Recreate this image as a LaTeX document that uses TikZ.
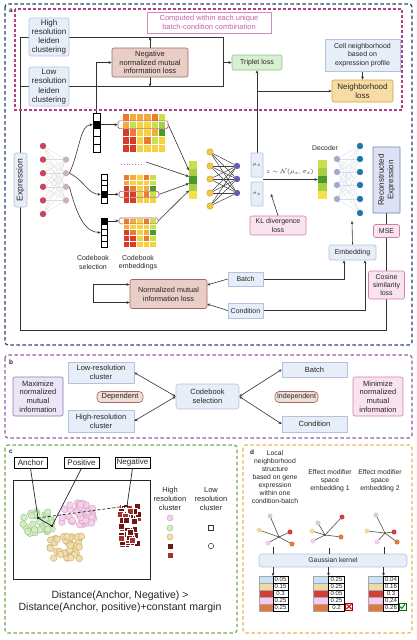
\documentclass[tikz,border=0pt]{standalone}
\usepackage{fontspec}
\setmainfont{Liberation Sans}
\usetikzlibrary{arrows.meta,calc}
\pgfdeclarelayer{back}
\pgfdeclarelayer{bg}
\pgfsetlayers{back,bg,main}
\definecolor{panA}{HTML}{2B4470}
\definecolor{panAin}{HTML}{B04088}
\definecolor{panB}{HTML}{9A5AA6}
\definecolor{panC}{HTML}{74A848}
\definecolor{panD}{HTML}{EBB64E}
\definecolor{bFill}{HTML}{E8EEF8}
\definecolor{bDraw}{HTML}{B3C3DF}
\definecolor{brFill}{HTML}{E8CEC7}
\definecolor{brDraw}{HTML}{A4675D}
\definecolor{pkFill}{HTML}{F9E3EE}
\definecolor{pkDraw}{HTML}{D27DAC}
\definecolor{gnFill}{HTML}{D8F0D2}
\definecolor{gnDraw}{HTML}{8CC47E}
\definecolor{orFill}{HTML}{F7DDA3}
\definecolor{orDraw}{HTML}{C9A14C}
\definecolor{puFill}{HTML}{ECE5F6}
\definecolor{puDraw}{HTML}{8877B8}
\definecolor{recFill}{HTML}{DCE2F4}
\definecolor{recDraw}{HTML}{7482B4}
\definecolor{compTxt}{HTML}{C662A8}
\definecolor{compDraw}{HTML}{D58BBE}
\definecolor{hR}{HTML}{D93B2B}
\definecolor{hO}{HTML}{EE7A31}
\definecolor{hYO}{HTML}{F4AA3C}
\definecolor{hY}{HTML}{F5D23E}
\definecolor{hG}{HTML}{CADF4E}
\definecolor{hLG}{HTML}{A6D042}
\definecolor{hDG}{HTML}{4B9A2A}
\definecolor{hYY}{HTML}{F2E24A}
\definecolor{nRed}{HTML}{C8455F}
\definecolor{nPink}{HTML}{CBB3BA}
\definecolor{nYel}{HTML}{F3C748}
\definecolor{nYelD}{HTML}{C99E22}
\definecolor{nPur}{HTML}{6A5BB0}
\definecolor{nGB}{HTML}{A3ABCD}
\definecolor{nTeal}{HTML}{1C79A9}
\definecolor{cGreen}{HTML}{D4EDC6}
\definecolor{cGreenD}{HTML}{9BCB88}
\definecolor{cPink}{HTML}{F5D2EA}
\definecolor{cPinkD}{HTML}{DDA6CC}
\definecolor{cTan}{HTML}{F1DDAE}
\definecolor{cTanD}{HTML}{D3B46F}
\definecolor{cDark}{HTML}{6E1518}
\definecolor{cRed}{HTML}{A8302C}
\definecolor{tBlue}{HTML}{CAE2F7}
\definecolor{tTan}{HTML}{EFD9A7}
\definecolor{tRed}{HTML}{D53D3A}
\definecolor{tPink}{HTML}{F3CBF0}
\definecolor{tOr}{HTML}{E07A3A}
\definecolor{gGrey}{HTML}{C9CFDF}
\newcommand{\myfs}[2]{\fontsize{#1}{#2}\selectfont}
\newcommand{\hmap}[5]{%
  \foreach \rw [count=\jj] in {#5}{%
    \foreach \cc [count=\ii] in \rw{%
      \filldraw[fill=\cc, draw=white, line width=0.25pt] ({#1+(\ii-1)*#3},{#2+(\jj-1)*#4}) rectangle ++(#3,#4);
    }%
  }%
}
\begin{document}
\begin{tikzpicture}[x=1pt,y=-1pt,
  font=\myfs{7}{8.4}, text=black!85,
  >={Stealth[length=3.2pt,width=2.8pt]},
  box/.style={rounded corners=2pt, align=center, inner sep=0pt, line width=0.6pt},
  bluebox/.style={box, draw=bDraw, fill=bFill},
  brbox/.style={box, draw=brDraw, fill=brFill},
  pkbox/.style={box, draw=pkDraw, fill=pkFill},
  sz/.style 2 args={minimum width=#1pt, minimum height=#2pt},
  conn/.style={draw=black!80, line width=0.6pt},
  arr/.style={conn, ->},
  dbl/.style={conn, <->},
  neuron/.style={circle, inner sep=0pt, minimum size=6.4pt},
  cellbox/.style={draw=black, line width=0.5pt, inner sep=0pt},
  paneldash/.style={line width=1.2pt, dash pattern=on 3.5pt off 2.5pt, rounded corners=3pt},
  plab/.style={font=\bfseries\myfs{6.5}{6.5}, inner sep=0pt},
  tval/.style={draw=black, fill=white, line width=0.5pt, minimum width=15pt, minimum height=7pt, inner sep=0pt, font=\myfs{6}{6}},
]
\useasboundingbox (0,0) rectangle (417,640);
\begin{pgfonlayer}{back}
\fill[white] (0,0) rectangle (417,640);
\end{pgfonlayer}

% ================= PANEL A =================
\draw[panA, paneldash] (5,4) rectangle (412,345);
\node[plab] (la) at (11,11) {a};
\draw[panAin, line width=1.2pt, dash pattern=on 3pt off 2pt] (15,9) rectangle (402,110);
\node[draw=compDraw, fill=white, text=compTxt, line width=0.8pt, sz={124}{21}, align=center, inner sep=0pt, font=\myfs{7.5}{9}] (comp) at (209,22.5) {Computed within each unique\\batch-condition combination};

\node[bluebox, sz={40}{38}, font=\myfs{8}{9.2}] (hi) at (49,37) {High\\resolution\\leiden\\clustering};
\node[bluebox, sz={40}{39}, font=\myfs{8}{9.2}] (lo) at (49,86.5) {Low\\resolution\\leiden\\clustering};
\node[brbox, sz={76}{29}, font=\myfs{7.5}{8.8}] (neg) at (150,62.5) {Negative\\normalized mutual\\information loss};
\node[box, draw=gnDraw, fill=gnFill, sz={50}{15}] (trip) at (257,62.5) {Triplet loss};
\node[bluebox, sz={75}{32}, rounded corners=0pt] (cell) at (362.5,55) {Cell neighborhood\\based on\\expression profile};
\node[box, draw=orDraw, fill=orFill, sz={61}{22}, font=\myfs{8}{9.4}] (nbl) at (362.5,91) {Neighborhood\\loss};

\node[bluebox, rotate=90, sz={54}{13}, font=\myfs{8.5}{9}] (expr) at (20.5,180) {Expression};

% encoder neurons
\foreach \y [count=\k] in {146,159.6,173.2,186.8,200.4,214}
  \node[neuron, fill=nRed] (ea\k) at (43,\y) {};
\foreach \y [count=\k] in {159.6,173.2,186.8,200.4}
  \node[neuron, fill=nPink] (eb\k) at (66,\y) {};

% codebook selection columns
\foreach \f [count=\k] in {white,black,white,white,white}
  \node[cellbox, fill=\f, sz={7}{7.8}] (c1\k) at (96.5,{113+3.9+(\k-1)*7.8}) {};
\foreach \f [count=\k] in {white,white,white,black,white}
  \node[cellbox, fill=\f, sz={6}{5.8}] (c2\k) at (104,{174+2.9+(\k-1)*5.8}) {};
\foreach \f [count=\k] in {black,white,white,white,white}
  \node[cellbox, fill=\f, sz={6}{5.8}] (c3\k) at (104,{218+2.9+(\k-1)*5.8}) {};

% heatmaps
\hmap{122}{113}{7.17}{7.8}{{hO,hYO,hYO,hYO,hO,hG},{hYO,hG,hY,hY,hG,hLG},{hR,hO,hY,hY,hYO,hDG},{hR,hR,hY,hO,hG,hY},{hR,hR,hY,hY,hY,hY}}
\hmap{123}{174}{6.6}{5.8}{{hO,hYO,hY,hO,hG},{hYO,hY,hY,hY,hG},{hR,hO,hY,hYO,hDG},{hR,hR,hY,hO,hG},{hR,hR,hY,hY,hY}}
\hmap{123}{218}{6.6}{5.8}{{hO,hYO,hY,hO,hG},{hYO,hY,hY,hY,hG},{hR,hO,hY,hYO,hDG},{hR,hR,hY,hO,hG},{hR,hR,hY,hY,hY}}
\node[draw=brDraw, rounded corners=1.5pt, sz={50}{7.8}, inner sep=0pt, line width=0.6pt] (h1r) at (143,124.7) {};
\node[draw=brDraw, rounded corners=1.5pt, sz={40}{5.8}, inner sep=0pt, line width=0.6pt] (h2r) at (139,194.3) {};
\node[draw=brDraw, rounded corners=1.5pt, sz={39}{5.8}, inner sep=0pt, line width=0.6pt] (h3r) at (138.5,220.9) {};
\coordinate (dotsL) at (121,164);
\coordinate (dotsR) at (142,164);
\draw[compTxt, line width=0.8pt, dash pattern=on 0.8pt off 2pt] (dotsL) -- (dotsR);

% combined column
\foreach \c [count=\k] in {hG,hLG,hDG,hLG,hYY}
  \node[inner sep=0pt, sz={8}{7.6}, fill=\c] (zc\k) at (193,{161+3.8+(\k-1)*7.6}) {};

% yellow / purple network
\foreach \y [count=\k] in {152,166,179,193,206}
  \node[neuron, fill=nYel, draw=nYelD, line width=0.4pt] (ya\k) at (210,\y) {};
\foreach \y [count=\k] in {166,179,193}
  \node[neuron, fill=nPur] (pb\k) at (237,\y) {};

\node[bluebox, rounded corners=0.5pt, sz={12}{24}, font=\myfs{5}{5}] (mu) at (257,165) {$\mu_z$};
\node[bluebox, rounded corners=0.5pt, sz={12}{24}, font=\myfs{5}{5}] (sig) at (257,194) {$\sigma_z$};
\node[font=\myfs{6}{6}, inner sep=0pt] (zlab) at (290,172) {$z\sim\mathcal{N}(\mu_{z},\sigma_{z})$};
\node[pkbox, sz={56}{19}] (kl) at (278,225.5) {KL divergence\\loss};

% decoder
\node[font=\myfs{6.8}{7}, inner sep=0pt] (decl) at (325,148) {Decoder};
\foreach \c [count=\k] in {hG,hLG,hDG,hLG,hYY}
  \node[inner sep=0pt, sz={9}{7.8}, fill=\c] (lt\k) at (322.5,{160+3.9+(\k-1)*7.8}) {};
\foreach \y [count=\k] in {159,172,185,199}
  \node[neuron, fill=nGB] (db\k) at (337,\y) {};
\foreach \y [count=\k] in {146,159,172,185,199,213}
  \node[neuron, fill=nTeal] (do\k) at (360,\y) {};
\node[box, draw=recDraw, fill=recFill, rotate=90, sz={66}{27}, rounded corners=0.5pt, font=\myfs{8}{9.4}] (rec) at (386.5,180) {Reconstructed\\Expression};
\node[pkbox, sz={26}{13}] (mse) at (386.5,231) {MSE};
\node[bluebox, sz={47}{15}] (emb) at (352.5,252.5) {Embedding};
\node[pkbox, sz={36}{28}] (cos) at (386.5,285) {Cosine\\similarity\\loss};
\node[bluebox, rounded corners=0pt, sz={35}{14}] (batch) at (245.5,279) {Batch};
\node[bluebox, rounded corners=0pt, sz={35}{15}] (cond) at (245.5,310.5) {Condition};
\node[brbox, sz={77}{29}, font=\myfs{7.3}{8.8}] (nmi) at (168.5,294) {Normalized mutual\\information loss};
\node[align=center, inner sep=0pt] (cbsl) at (93,262.5) {Codebook\\selection};
\node[align=center, inner sep=0pt] (cbel) at (138,262.5) {Codebook\\embeddings};

% connector coordinates
\coordinate (Ltop) at (20,37);
\coordinate (Lmid) at (20,86.5);
\coordinate (Lbot) at (20,330);
\coordinate (Rbot) at (386.5,330);
\coordinate (Rt) at (223,37);
\coordinate (Rb) at (223,86.5);
\coordinate (Rm) at (223,62.5);
\coordinate (nT) at (150,37);
\coordinate (nB) at (150,86.5);
\coordinate (c1up) at (96.5,62.5);
\coordinate (muB) at (257,91);
\coordinate (zin1) at (189,170.5);
\coordinate (zin2) at (189,176.5);
\coordinate (zin3) at (189,183.5);
\coordinate (zin4) at (189,190.5);
\coordinate (dotsA) at (146,162);
\coordinate (zst) at (263,179.5);
\coordinate (klT) at (271,194);
\coordinate (decIn) at (352,221);
\coordinate (bc1) at (344,279);
\coordinate (cc1) at (365,310.5);
\coordinate (nmiB) at (207,285);
\coordinate (nmiC) at (207,304);
\coordinate (s1) at (93,284.5);
\coordinate (s2) at (93,302.5);

\begin{pgfonlayer}{bg}
  \draw[conn] (hi.west) -- (Ltop) -- (Lbot) -- (Rbot) -- (cos.south);
  \draw[conn] (lo.west) -- (Lmid);
  \draw[conn] (hi.east) -- (Rt) -- (Rb) -- (lo.east);
  \draw[arr] (Rm) -- (trip.west);
  \draw[arr] (neg.north) -- (nT);
  \draw[arr] (neg.south) -- (nB);
  \draw[arr] (c11.north) -- (c1up) -- (neg.west);
  \draw[arr] (mu.north) -- (trip.south);
  \draw[arr] (muB) -- (nbl.west);
  \draw[arr] (cell.south) -- (nbl.north);
  \foreach \i in {1,...,6}{\foreach \j in {1,...,4}{\draw[black!14, line width=0.3pt] (ea\i) -- (eb\j);}}
  \foreach \i in {1,...,5}{\foreach \j in {1,...,3}{\draw[black!75, line width=0.5pt] (ya\i) -- (pb\j);}}
  \foreach \i in {1,...,4}{\foreach \j in {1,...,6}{\draw[gGrey!70, line width=0.3pt] (db\i) -- (do\j);}}
  \draw[arr] (eb2.east) .. controls (80,150) and (80,124.7) .. (c12.west);
  \draw[arr] (eb2.east) .. controls (84,180) and (88,194.3) .. (c24.west);
  \draw[arr] (eb3.east) .. controls (76,212) and (84,232.5) .. (c33.west);
  \draw[arr] (c12.east) -- (h1r.west);
  \draw[arr] (c24.east) -- (h2r.west);
  \draw[arr] (c31.east) -- (h3r.west);
  \draw[arr] (h1r.east) -- (zin1);
  \draw[arr] (dotsA) -- (zin2);
  \draw[arr] (h2r.east) -- (zin3);
  \draw[arr] (h3r.east) -- (zin4);
  \draw[arr] (zst) -- (lt3.west);
  \draw[arr] (kl.north) -- (klT);
  \draw[arr] (emb.north) -- (decIn);
  \draw[conn] (rec.west) -- (mse.north);
  \draw[conn] (mse.south) -- (cos.north);
  \draw[arr] (batch.east) -- (bc1) -- (bc1 |- emb.south);
  \draw[arr] (cond.east) -- (cc1) -- (cc1 |- emb.south);
  \draw[arr] (batch.west) -- (nmiB);
  \draw[arr] (cond.west) -- (nmiC);
  \draw[conn] (s1) -- (s2);
  \draw[arr] (s1) -- (nmi.west |- s1);
  \draw[arr] (s2) -- (nmi.west |- s2);
\end{pgfonlayer}

% ================= PANEL B =================
\draw[panB, paneldash] (5,355) rectangle (412,438);
\node[plab] (lb) at (11,362) {b};
\node[box, draw=puDraw, fill=puFill, sz={50}{39}, font=\myfs{7.5}{8.7}] (maxn) at (38,396.5) {Maximize\\normalized\\mutual\\information};
\node[bluebox, rounded corners=0pt, sz={66}{21}, font=\myfs{7.5}{8.7}] (lowr) at (101,372.5) {Low-resolution\\cluster};
\node[bluebox, rounded corners=0pt, sz={66}{22}, font=\myfs{7.5}{8.7}] (highr) at (101,421) {High-resolution\\cluster};
\node[box, draw=brDraw, fill=brFill!70, rounded corners=4pt, sz={46}{11}, font=\myfs{7.5}{8}] (dep) at (120,397) {Dependent};
\node[bluebox, rounded corners=3pt, sz={63}{25}, font=\myfs{7.5}{8.7}] (cbs) at (207.5,396.5) {Codebook\\selection};
\node[box, draw=brDraw, fill=brFill!70, rounded corners=4pt, sz={43}{11}, font=\myfs{7}{8}] (indep) at (296.5,397) {Independent};
\node[bluebox, rounded corners=0pt, sz={65}{15}, font=\myfs{7.5}{8.7}] (bbat) at (314.5,369.5) {Batch};
\node[bluebox, rounded corners=0pt, sz={65}{16}, font=\myfs{7.5}{8.7}] (bcon) at (314.5,424) {Condition};
\node[pkbox, sz={50}{39}, font=\myfs{7.5}{8.7}] (minn) at (378,396.5) {Minimize\\normalized\\mutual\\information};
\draw[dbl] (lowr.east) -- (cbs.west);
\draw[dbl] (highr.east) -- (cbs.west);
\draw[dbl] (cbs.east) -- (bbat.west);
\draw[dbl] (cbs.east) -- (bcon.west);

% ================= PANEL C =================
\draw[panC, paneldash] (5,445) rectangle (237,633);
\node[plab] (lc) at (11,452) {c};
\node[draw=black, fill=white, line width=0.6pt, sz={33}{11}, inner sep=0pt, font=\myfs{8}{8}] (anc) at (30.5,462.5) {Anchor};
\node[draw=black, fill=white, line width=0.6pt, sz={35}{11}, inner sep=0pt, font=\myfs{8}{8}] (pos) at (81.5,462.5) {Positive};
\node[draw=black, fill=white, line width=0.6pt, sz={35}{11}, inner sep=0pt, font=\myfs{8}{8}] (ngt) at (132.5,462.5) {Negative};
\draw[black!85, line width=0.7pt] (13,480) rectangle (150,579);
\pgfmathsetseed{11}
\foreach \i in {1,...,40}{
  \pgfmathsetmacro{\px}{76+18*rand}
  \pgfmathsetmacro{\py}{514+13*rand}
  \filldraw[fill=cPink, draw=cPinkD, line width=0.5pt] (\px,\py) circle (3.3pt);
}
\foreach \i in {1,...,40}{
  \pgfmathsetmacro{\px}{66+16*rand}
  \pgfmathsetmacro{\py}{548+12*rand}
  \filldraw[fill=cTan, draw=cTanD, line width=0.5pt] (\px,\py) circle (3.3pt);
}
\foreach \i in {1,...,36}{
  \pgfmathsetmacro{\px}{38+15*rand}
  \pgfmathsetmacro{\py}{523+11*rand}
  \filldraw[fill=cGreen, draw=cGreenD, line width=0.5pt] (\px,\py) circle (3.3pt);
}
\foreach \i in {1,...,55}{
  \pgfmathsetmacro{\px}{129+9*rand}
  \pgfmathsetmacro{\py}{525+20*rand}
  \pgfmathsetmacro{\pc}{mod(\i,3)==0 ? 1 : 0}
  \ifdim\pc pt>0.5pt
    \filldraw[fill=cRed, draw=white, line width=0.4pt] (\px-3,\py-3) rectangle ++(6,6);
  \else
    \filldraw[fill=cDark, draw=white, line width=0.4pt] (\px-3,\py-3) rectangle ++(6,6);
  \fi
}
\coordinate (pA) at (38,518);
\coordinate (pP) at (52,526);
\coordinate (pN) at (127,506);
\draw[black!85, line width=0.7pt] (anc.south) -- (pA);
\draw[black!85, line width=0.7pt] (pos.south) -- (pP);
\draw[black!85, line width=0.7pt] (ngt.south) -- (pN);
\draw[black!85, line width=0.7pt] (pA) -- (pP);
\draw[black!85, line width=0.7pt, dash pattern=on 3pt off 2pt] (pA) -- (pN);
\fill[black] (pA) circle (1.1pt);
\fill[black] (pP) circle (1.1pt);
\fill[black] (pN) circle (1.1pt);
\node[align=center, inner sep=0pt, font=\myfs{7.5}{8.8}] (lgH) at (170,499) {High\\resolution\\cluster};
\node[align=center, inner sep=0pt, font=\myfs{7.5}{8.8}] (lgL) at (211,499) {Low\\resolution\\cluster};
\filldraw[fill=cPink, draw=cPinkD, line width=0.5pt] (170,518) circle (3pt);
\filldraw[fill=cGreen, draw=cGreenD, line width=0.5pt] (170,528) circle (3pt);
\filldraw[fill=cTan, draw=cTanD, line width=0.5pt] (170,537) circle (3pt);
\filldraw[fill=cDark, draw=white, line width=0.4pt] (167.2,543.2) rectangle ++(5.6,5.6);
\filldraw[fill=cRed, draw=white, line width=0.4pt] (167.2,552.2) rectangle ++(5.6,5.6);
\draw[black!80, line width=0.5pt] (208.5,525.5) rectangle ++(5,5);
\draw[black!80, line width=0.5pt] (211,546) circle (2.7pt);
\node[align=center, inner sep=0pt, font=\myfs{10.5}{12.5}] (dist) at (120,602) {Distance(Anchor, Negative) >\\Distance(Anchor, positive)+constant margin};

% ================= PANEL D =================
\draw[panD, paneldash] (243,445) rectangle (412,633);
\node[plab] (ld) at (252,452) {d};
\node[align=center, inner sep=0pt, font=\myfs{6.8}{8}] (dt1) at (275,477) {Local\\neighborhood\\structure\\based on gene\\expression\\within one\\condition-batch};
\node[align=center, inner sep=0pt, font=\myfs{6.8}{8}] (dt2) at (330,481) {Effect modifier\\space\\embedding 1};
\node[align=center, inner sep=0pt, font=\myfs{6.8}{8}] (dt3) at (380,481) {Effect modifier\\space\\embedding 2};
% graphs
\foreach \cx/\cy/\ax/\ay/\bx/\by/\qx/\qy/\rx/\ry/\ox/\oy in {
  279/537/270/516/259/530/268/543/290/532/292/544,
  325/535/318/523/312/531/313/541/342/517/341/537,
  385/533/376/515/367/531/377/542/394/532/397/542}{
  \draw[black!70, line width=0.6pt] (\cx,\cy) -- (\ax,\ay);
  \draw[black!70, line width=0.6pt] (\cx,\cy) -- (\bx,\by);
  \draw[black!70, line width=0.6pt] (\cx,\cy) -- (\qx,\qy);
  \draw[black!70, line width=0.6pt] (\cx,\cy) -- (\rx,\ry);
  \draw[black!70, line width=0.6pt] (\cx,\cy) -- (\ox,\oy);
  \fill[gGrey] (\ax,\ay) circle (2.5pt);
  \fill[tTan] (\bx,\by) circle (2.5pt);
  \fill[tPink] (\qx,\qy) circle (2.5pt);
  \fill[tRed] (\rx,\ry) circle (2.5pt);
  \fill[tOr] (\ox,\oy) circle (2.5pt);
  \fill[black!70] (\cx,\cy) circle (1pt);
}
\node[bluebox, rounded corners=3pt, sz={148}{13}, font=\myfs{6.8}{7}] (gk) at (333,560.5) {Gaussian kernel};
\coordinate (g1) at (273,547);
\coordinate (g2) at (329,548);
\coordinate (g3) at (384,547);
\coordinate (t1) at (273,576);
\coordinate (t2) at (328.5,576);
\coordinate (t3) at (383.5,576);
\draw[conn] (g1) -- (g1 |- gk.north);
\draw[conn] (g2) -- (g2 |- gk.north);
\draw[conn] (g3) -- (g3 |- gk.north);
\draw[arr] (t1 |- gk.south) -- (t1);
\draw[arr] (t2 |- gk.south) -- (t2);
\draw[arr] (t3 |- gk.south) -- (t3);
% tables
\foreach \c [count=\k] in {tBlue,tTan,tRed,tPink,tOr}{
  \filldraw[fill=\c, draw=black!35, line width=0.3pt] (259,{576+(\k-1)*7}) rectangle ++(14,7);
  \filldraw[fill=\c, draw=black!35, line width=0.3pt] (313.5,{576+(\k-1)*7}) rectangle ++(15,7);
  \filldraw[fill=\c, draw=black!35, line width=0.3pt] (368.5,{576+(\k-1)*7}) rectangle ++(15,7);
}
\foreach \v [count=\k] in {0.05,0.15,0.3,0.25,0.25}
  \node[tval] (ta\k) at (280.5,{576+3.5+(\k-1)*7}) {\v};
\foreach \v [count=\k] in {0.25,0.25,0.05,0.25,0.2}
  \node[tval, minimum width=16pt] (tb\k) at (336.5,{576+3.5+(\k-1)*7}) {\v};
\foreach \v [count=\k] in {0.04,0.16,0.3,0.24,0.26}
  \node[tval] (tc\k) at (391,{576+3.5+(\k-1)*7}) {\v};
\node[draw=red!70!black, fill=red!8, sz={7}{7}, inner sep=0pt, line width=0.6pt] (xic) at (349,606.5) {};
\draw[red!80!black, line width=0.9pt] ([shift={(1.3,1.3)}]xic.north west) -- ([shift={(-1.3,-1.3)}]xic.south east);
\draw[red!80!black, line width=0.9pt] ([shift={(-1.3,1.3)}]xic.north east) -- ([shift={(1.3,-1.3)}]xic.south west);
\node[draw=green!45!black, fill=green!6, sz={7}{7}, inner sep=0pt, line width=0.6pt] (chk) at (402.5,606.5) {};
\draw[green!45!black, line width=0.9pt] (400.2,606.6) -- (401.9,608.3) -- (405,604.4);
\end{tikzpicture}
\end{document}
